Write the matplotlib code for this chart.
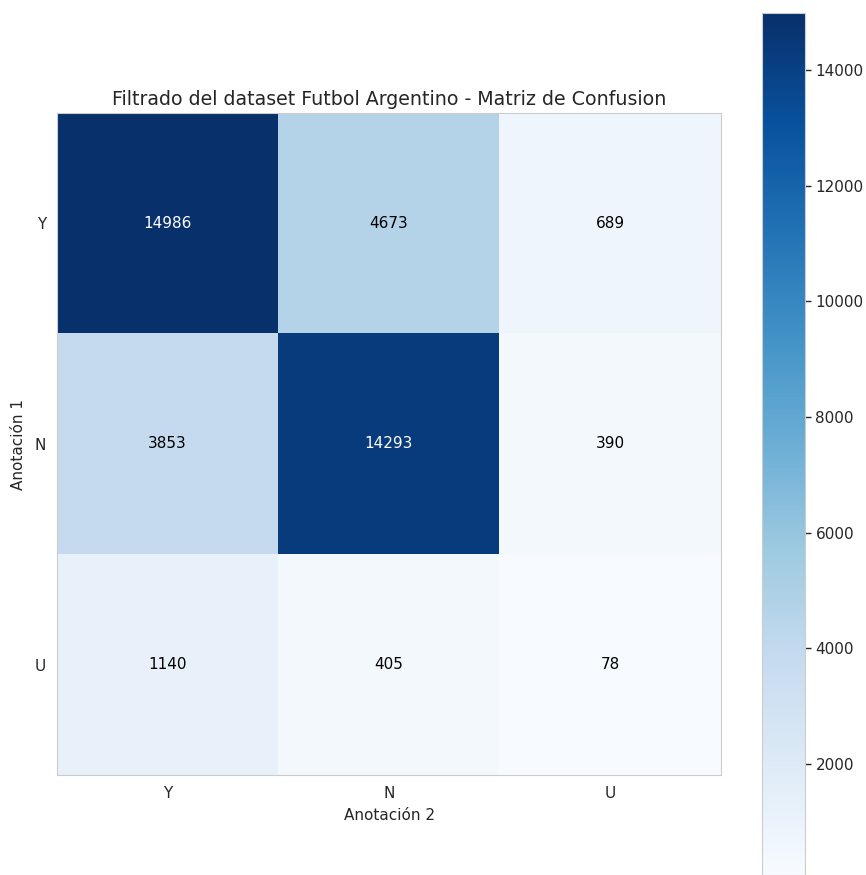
import numpy as np
import matplotlib
matplotlib.use("Agg")
import matplotlib.pyplot as plt

labels = ["Y", "N", "U"]
counts = np.array([
    [14986, 4673, 689],
    [3853, 14293, 390],
    [1140, 405, 78],
])
title = "Filtrado del dataset Futbol Argentino - Matriz de Confusion"
xlabel = "Anotación 2"
ylabel = "Anotación 1"

plt.rcParams["font.family"] = ["DejaVu Sans"]
text_col = "#262626"
spine_col = "#cccccc"

W, H = 866, 875
fig = plt.figure(figsize=(W / 100, H / 100), dpi=100)
ax = fig.add_axes([57 / W, (H - 775) / H, 664 / W, 662 / H])
cax = fig.add_axes([762 / W, 0 / H, 43 / W, 862 / H])

im = ax.imshow(counts, cmap="Blues", interpolation="nearest", aspect="auto")
cb = fig.colorbar(im, cax=cax)
cb.set_ticks([2000, 4000, 6000, 8000, 10000, 12000, 14000])
cb.outline.set_edgecolor(spine_col)
cb.ax.tick_params(length=4.5, width=1, color=text_col, labelsize=11, labelcolor=text_col, pad=3)

thresh = counts.max() / 2.0
for i in range(counts.shape[0]):
    for j in range(counts.shape[1]):
        ax.text(j, i, f"{counts[i, j]}", ha="center", va="center", fontsize=11,
                color="white" if counts[i, j] > thresh else "black")

ax.set_xticks(range(len(labels)))
ax.set_yticks(range(len(labels)))
ax.set_xticklabels(labels)
ax.set_yticklabels(labels)
ax.tick_params(length=0, labelsize=11, labelcolor=text_col, pad=8)
ax.set_title(title, fontsize=13.7, color=text_col, pad=6)
ax.set_xlabel(xlabel, fontsize=11, color=text_col, labelpad=5)
ax.set_ylabel(ylabel, fontsize=11, color=text_col, labelpad=6)
for s in ax.spines.values():
    s.set_edgecolor(spine_col)
ax.grid(False)

fig.savefig("out.png", dpi=100)
